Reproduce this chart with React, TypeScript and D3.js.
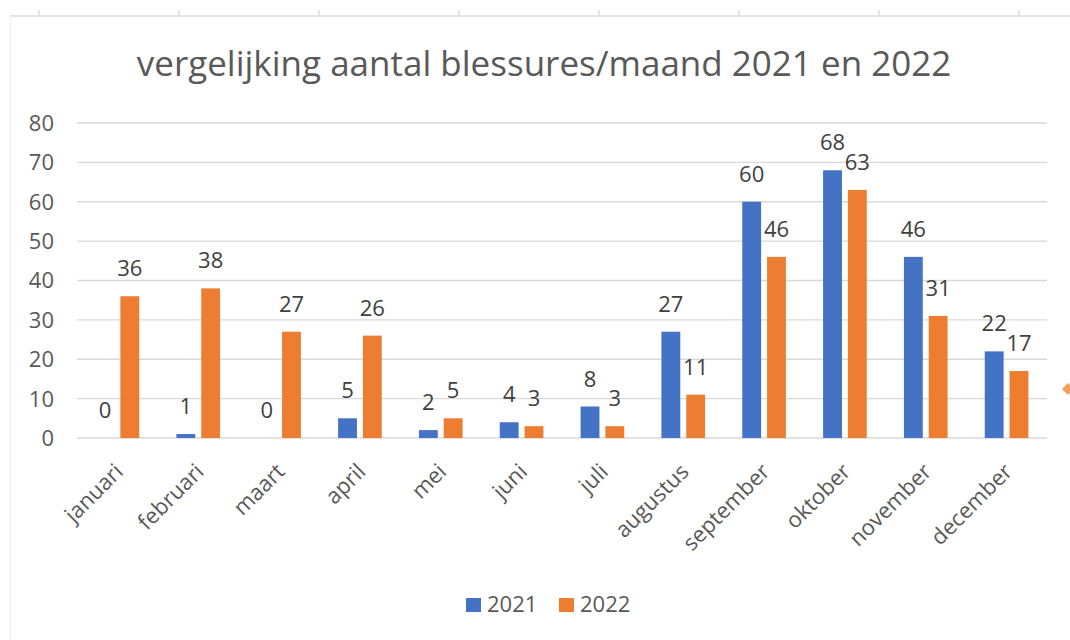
import React from 'react';
import * as d3 from 'd3';

const months = ['januari', 'februari', 'maart', 'april', 'mei', 'juni', 'juli', 'augustus', 'september', 'oktober', 'november', 'december'];
const series = ['2021', '2022'];
const values2021 = [0, 1, 0, 5, 2, 4, 8, 27, 60, 68, 46, 22];
const values2022 = [36, 38, 27, 26, 5, 3, 3, 11, 46, 63, 31, 17];
const yTicks = [0, 10, 20, 30, 40, 50, 60, 70, 80];
const colors = ['#4472C4', '#ED7D31'];
const rulerTicks = [39, 179, 319, 459, 599, 739, 879, 1019];

const width = 1070;
const height = 640;
const margin = { top: 123, right: 23, bottom: 202, left: 77 };
const font = '"Open Sans", "Noto Sans", sans-serif';
const fs = 22;

export default function App() {
  const x = d3.scaleBand<string>()
    .domain(months)
    .range([margin.left, width - margin.right]);

  const inner = d3.scaleBand<string>()
    .domain(series)
    .range([x.bandwidth() * 0.23, x.bandwidth() * 0.77])
    .paddingInner(0.24);

  const y = d3.scaleLinear()
    .domain([0, 80])
    .range([height - margin.bottom, margin.top]);

  const data = months.map((m, i) => ({ month: m, vals: [values2021[i], values2022[i]] }));

  return (
    <svg width={width} height={height} style={{ position: 'absolute', left: 0, top: 0, background: '#fff' }}>
      {/* spreadsheet frame */}
      <line x1={10} x2={width} y1={16} y2={16} stroke="#e3e3e3" strokeWidth={2} />
      <line x1={10.5} x2={10.5} y1={16} y2={height} stroke="#f0f0f0" strokeWidth={1} />
      {rulerTicks.map(t => (
        <line key={t} x1={t} x2={t} y1={10} y2={16} stroke="#dcdcdc" strokeWidth={1.5} />
      ))}

      <text x={544} y={76} textAnchor="middle" fontFamily={font} fontSize={35} fill="#595959">
        vergelijking aantal blessures/maand 2021 en 2022
      </text>

      {/* grid + y labels */}
      {yTicks.map(t => (
        <g key={t}>
          <line x1={margin.left} x2={width - margin.right} y1={y(t)} y2={y(t)} stroke="#d9d9d9" strokeWidth={1.3} />
          <text x={54} y={y(t)} dy="0.36em" textAnchor="end" fontFamily={font} fontSize={fs} fill="#595959">{t}</text>
        </g>
      ))}

      {/* bars */}
      {data.map(d => (
        <g key={d.month} transform={`translate(${x(d.month)},0)`}>
          {d.vals.map((v, j) => (
            <g key={j}>
              <rect
                x={inner(series[j])}
                y={y(v)}
                width={inner.bandwidth()}
                height={y(0) - y(v)}
                fill={colors[j]}
              />
              <text
                x={(inner(series[j]) as number) + inner.bandwidth() / 2}
                y={y(v) - 20}
                textAnchor="middle"
                fontFamily={font}
                fontSize={fs}
                fill="#404040"
              >{v}</text>
            </g>
          ))}
        </g>
      ))}

      {/* category labels */}
      {months.map(m => (
        <text
          key={m}
          transform={`translate(${(x(m) as number) + x.bandwidth() / 2 + 7},${y(0) + 35}) rotate(-45)`}
          textAnchor="end"
          fontFamily={font}
          fontSize={fs}
          fill="#595959"
        >{m}</text>
      ))}

      {/* legend */}
      {series.map((s, i) => (
        <g key={s} transform={`translate(${466 + i * 93},598)`}>
          <rect width={15} height={14} fill={colors[i]} />
          <text x={21} y={14} fontFamily={font} fontSize={fs} fill="#595959">{s}</text>
        </g>
      ))}

      {/* selection handle */}
      <path d="M1062,389 L1068,383 L1074,389 L1068,395 Z" fill="#F0A060" />
    </svg>
  );
}
